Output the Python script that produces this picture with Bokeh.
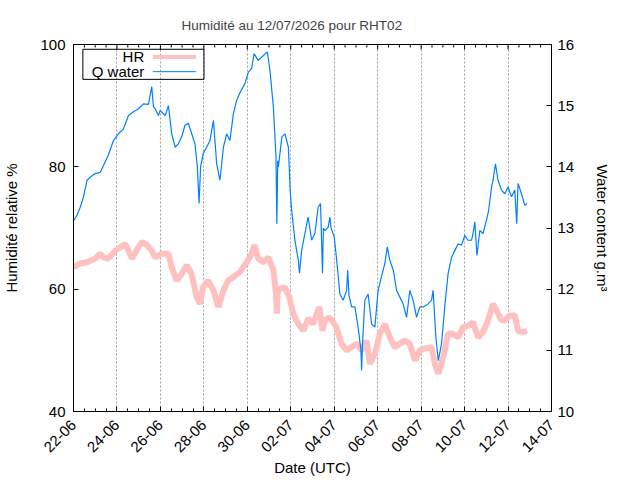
import math
import pandas as pd
from bokeh.plotting import figure
from bokeh.models import Range1d, LinearAxis, FixedTicker, DatetimeTickFormatter
from bokeh.embed import file_html
from bokeh.resources import INLINE
from bokeh.core.properties import value

START = "2026-06-22"
END = "2026-07-14"

# Q water (g.m^3), time in days since 22-06 00:00 UTC
q_days = [0.0, 0.15, 0.31, 0.46, 0.62, 0.77, 1.0, 1.23, 1.38, 1.6, 1.84, 2.07, 2.3, 2.53, 2.76,
          2.99, 3.22, 3.45, 3.6, 3.68, 3.76, 3.91, 3.99, 4.22, 4.37, 4.52, 4.68, 4.83, 4.98, 5.13,
          5.29, 5.44, 5.59, 5.70, 5.78, 5.85, 5.97, 6.13, 6.28, 6.44, 6.59, 6.74, 6.90, 7.05, 7.2,
          7.36, 7.51, 7.66, 7.89, 8.05, 8.2, 8.31, 8.5, 8.74, 8.92, 9.04, 9.2, 9.32, 9.36, 9.40,
          9.43, 9.59, 9.73, 9.89, 9.97, 10.04, 10.19, 10.35, 10.40, 10.5, 10.65, 10.8, 10.96, 11.11,
          11.26, 11.37, 11.46, 11.5, 11.57, 11.72, 11.8, 11.85, 12.0, 12.1, 12.26, 12.41, 12.57,
          12.62, 12.68, 12.8, 12.95, 13.1, 13.23, 13.26, 13.3, 13.41, 13.56, 13.72, 13.87, 14.02,
          14.17, 14.33, 14.44, 14.56, 14.72, 14.87, 15.02, 15.17, 15.33, 15.48, 15.63, 15.79, 15.94,
          16.09, 16.3, 16.48, 16.55, 16.68, 16.79, 16.94, 17.1, 17.24, 17.4, 17.55, 17.7, 17.86,
          18.01, 18.16, 18.32, 18.39, 18.47, 18.57, 18.7, 18.85, 19.0, 19.11, 19.24, 19.31, 19.42,
          19.54, 19.7, 19.85, 20.0, 20.16, 20.31, 20.4, 20.46, 20.62, 20.77, 20.88]
q_vals = [13.12, 13.2, 13.34, 13.51, 13.78, 13.83, 13.89, 13.91, 14.02, 14.19, 14.43, 14.54, 14.62,
          14.84, 14.90, 14.95, 15.03, 15.02, 15.31, 14.98, 14.95, 14.84, 14.92, 14.84, 15.0, 14.54,
          14.32, 14.38, 14.49, 14.68, 14.71, 14.54, 14.38, 14.0, 13.40, 14.0, 14.22, 14.32, 14.43,
          14.76, 14.05, 13.78, 14.32, 14.54, 14.43, 14.87, 15.09, 15.21, 15.36, 15.55, 15.61, 15.85,
          15.74, 15.82, 15.88, 15.58, 14.98, 14.16, 13.07, 14.1, 14.0, 14.49, 14.54, 14.32, 13.62,
          13.29, 12.80, 12.47, 12.26, 12.63, 12.91, 13.18, 12.80, 12.91, 13.34, 13.40, 12.26, 13.0,
          12.96, 13.01, 13.18, 13.01, 12.85, 12.52, 11.92, 11.82, 11.98, 12.31, 11.9, 11.71, 11.71,
          11.38, 11.0, 10.67, 11.1, 11.82, 11.92, 11.43, 11.38, 11.98, 12.20, 12.42, 12.69, 12.47,
          12.31, 11.98, 11.87, 11.76, 11.54, 11.98, 11.82, 11.54, 11.71, 11.71, 11.75, 11.82, 11.98,
          11.21, 10.83, 11.11, 11.76, 12.25, 12.52, 12.63, 12.74, 12.72, 12.88, 12.80, 12.80, 12.91,
          13.1, 12.55, 12.96, 12.91, 13.12, 13.29, 13.67, 13.78, 14.05, 13.78, 13.62, 13.56, 13.67,
          13.51, 13.62, 13.07, 13.73, 13.56, 13.37, 13.40]

# HR (%)
hr_days = [0.0, 0.31, 0.62, 1.0, 1.23, 1.38, 1.6, 1.92, 2.38, 2.53, 2.7, 2.93, 3.16, 3.38, 3.6,
           3.76, 4.07, 4.37, 4.52, 4.75, 4.98, 5.21, 5.44, 5.67, 5.82, 5.97, 6.2, 6.44, 6.67, 6.9,
           7.12, 7.36, 7.66, 7.97, 8.2, 8.33, 8.5, 8.74, 8.97, 9.2, 9.32, 9.36, 9.4, 9.5, 9.73,
           9.93, 10.11, 10.35, 10.58, 10.8, 11.03, 11.31, 11.46, 11.57, 11.8, 12.1, 12.33, 12.57,
           12.8, 13.03, 13.26, 13.49, 13.64, 13.87, 14.1, 14.33, 14.56, 14.79, 15.02, 15.25, 15.48,
           15.71, 15.94, 16.17, 16.48, 16.63, 16.79, 17.02, 17.24, 17.47, 17.7, 17.93, 18.16, 18.39,
           18.62, 18.85, 19.08, 19.31, 19.54, 19.7, 19.85, 20.08, 20.31, 20.46, 20.69, 20.88]
hr_vals = [63.6, 64.2, 64.4, 65.0, 65.8, 65.2, 65.0, 66.3, 67.4, 66.3, 65.0, 66.6, 67.7, 67.2, 66.3,
           65.2, 65.8, 65.8, 63.6, 61.4, 62.5, 63.9, 62.5, 58.7, 57.6, 60.3, 61.4, 59.8, 57.1, 59.8,
           61.4, 62.0, 62.8, 64.4, 65.8, 67.2, 65.0, 64.4, 65.2, 63.1, 59.2, 56.0, 59.5, 60.1, 60.3,
           58.7, 56.0, 54.3, 53.2, 55.2, 54.3, 57.1, 53.2, 54.9, 55.4, 53.8, 51.1, 50.0,
           50.5, 51.1, 50.0, 51.6, 47.8, 49.4, 52.7, 54.3, 52.1, 50.5, 51.1, 51.6, 51.1,
           48.3, 50.0, 50.3, 50.5, 47.8, 46.2, 48.9, 52.7, 52.7, 52.1, 53.8, 54.0, 54.6,
           52.1, 53.0, 54.9, 57.6, 56.0, 54.9, 54.9, 55.7, 55.7, 53.2, 53.0, 53.2]

hr_ticks = [40, 60, 80, 100]
q_ticks = [10, 11, 12, 13, 14, 15, 16]
x_tick_days = list(range(0, 23, 2))
x_minor_hours = [h for h in range(0, 22 * 24 + 1, 12) if h % 48 != 0]

TITLE = "Humidité au 12/07/2026 pour RHT02"
X_LABEL = "Date (UTC)"
Y_LABEL = "Humidité relative %"
Y2_LABEL = "Water content g.m³"
LEGEND = ["HR", "Q water"]

HR_COLOR = "#ffc0c0"
Q_COLOR = "#0080ff"
FONT = "Liberation Sans"

DAY = 86400000.0
t0 = pd.Timestamp(START, tz="UTC").value / 1e6
t1 = pd.Timestamp(END, tz="UTC").value / 1e6
q_x = [t0 + d * DAY for d in q_days]
hr_x = [t0 + d * DAY for d in hr_days]
major_x = [t0 + d * DAY for d in x_tick_days]
minor_x = [t0 + h * 3600000.0 for h in x_minor_hours]

FRAME_H = 367
p = figure(frame_width=478, frame_height=FRAME_H, x_axis_type="datetime",
           x_range=Range1d(t0, t1), y_range=Range1d(40, 100),
           output_backend="svg", toolbar_location=None,
           min_border_left=73, min_border_right=80, min_border_top=44, min_border_bottom=60)
p.extra_y_ranges = {"q": Range1d(10, 16), "fy": Range1d(0, 1)}
p.extra_x_ranges = {"fx": Range1d(0, 1)}
p.background_fill_color = "white"
p.border_fill_color = "white"
p.outline_line_color = "black"
p.outline_line_width = 1

xticker = FixedTicker(ticks=major_x, minor_ticks=minor_x)
fmt = DatetimeTickFormatter(milliseconds="%d-%m", seconds="%d-%m", minsec="%d-%m", minutes="%d-%m",
                            hourmin="%d-%m", hours="%d-%m", days="%d-%m", months="%d-%m", years="%d-%m")

def style(ax):
    ax.axis_line_color = "black"
    ax.major_tick_in = 5
    ax.major_tick_out = 0
    ax.minor_tick_in = 3
    ax.minor_tick_out = 0
    ax.major_tick_line_color = "black"
    ax.minor_tick_line_color = "black"
    ax.major_label_text_font = FONT
    ax.major_label_text_font_size = "15px"
    ax.major_label_text_color = "black"
    ax.axis_label_text_font = FONT
    ax.axis_label_text_font_size = "15px"
    ax.axis_label_text_font_style = "normal"
    ax.axis_label_text_color = "black"

xa = p.xaxis[0]
xa.ticker = xticker
xa.formatter = fmt
xa.major_label_orientation = math.pi / 4
xa.axis_label = X_LABEL
style(xa)
xa.major_label_standoff = 11
xa.axis_label_standoff = -1

ya = p.yaxis[0]
ya.ticker = FixedTicker(ticks=hr_ticks, minor_ticks=[])
ya.axis_label = Y_LABEL
style(ya)
ya.minor_tick_line_color = None
ya.major_label_standoff = 8
ya.axis_label_standoff = 17

ra = LinearAxis(y_range_name="q", ticker=FixedTicker(ticks=q_ticks, minor_ticks=[]), axis_label=Y2_LABEL)
style(ra)
ra.minor_tick_line_color = None
ra.major_label_standoff = 6
ra.axis_label_standoff = 17
p.add_layout(ra, "right")

p.xgrid.ticker = FixedTicker(ticks=major_x)
p.xgrid.grid_line_color = "#a0a0a0"
p.xgrid.grid_line_dash = "2 2"
p.xgrid.grid_line_width = 1
p.ygrid.visible = False

# mirrored x ticks along the top border
p.segment(x0=major_x, x1=major_x, y0=[1.0] * len(major_x), y1=[1 - 5.0 / FRAME_H] * len(major_x),
          line_color="black", line_width=1, y_range_name="fy")
p.segment(x0=minor_x, x1=minor_x, y0=[1.0] * len(minor_x), y1=[1 - 3.0 / FRAME_H] * len(minor_x),
          line_color="black", line_width=1, y_range_name="fy")

p.line(hr_x, hr_vals, line_color=HR_COLOR, line_width=6)
p.line(q_x, q_vals, line_color=Q_COLOR, line_width=1.2, y_range_name="q")

# legend (frame-fraction coordinates)
p.quad(left=[0.0196], right=[0.273], bottom=[0.905], top=[0.987], fill_color=None,
       line_color="black", line_width=1, x_range_name="fx", y_range_name="fy")
p.segment(x0=[0.166], x1=[0.256], y0=[0.966], y1=[0.966], line_color=HR_COLOR, line_width=4,
          x_range_name="fx", y_range_name="fy")
p.segment(x0=[0.166], x1=[0.256], y0=[0.926], y1=[0.926], line_color=Q_COLOR, line_width=1,
          x_range_name="fx", y_range_name="fy")
p.text(x=[0.148, 0.148], y=[0.966, 0.926], text=LEGEND, text_align="right", text_baseline="middle",
       text_font=value(FONT), text_font_size="15px", text_color="black",
       x_range_name="fx", y_range_name="fy")

p.title.text = TITLE
p.title.text_font = FONT
p.title.text_font_size = "13.5px"
p.title.text_font_style = "normal"
p.title.align = "left"
p.title.offset = 108
p.title.standoff = 24

open("out.html", "w").write(file_html(p, INLINE))
